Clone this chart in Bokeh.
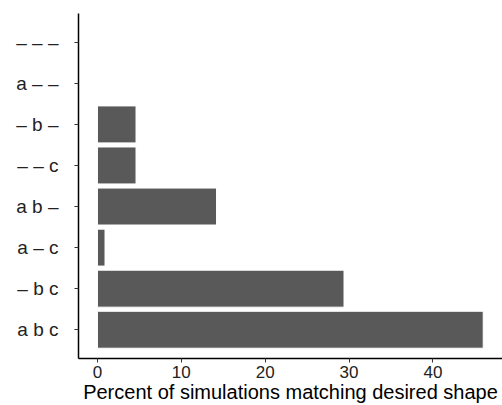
from bokeh.plotting import figure
from bokeh.models import FactorRange, Range1d, FixedTicker
from bokeh.embed import file_html
from bokeh.resources import INLINE

categories = ["a b c", "– b c", "a – c", "a b –", "– – c", "– b –", "a – –", "– – –"]
percent = [46.0, 29.4, 0.9, 14.2, 4.6, 4.6, 0.0, 0.0]
x_ticks = [0, 10, 20, 30, 40]

font = "Liberation Sans"

p = figure(width=502, height=405, output_backend="svg", toolbar_location=None,
           y_range=FactorRange(factors=categories, range_padding=0.2,
                               range_padding_units="absolute"),
           x_range=Range1d(-2.26, 48.3))
p.hbar(y=categories, right=percent, left=0, height=0.9,
       fill_color="#595959", line_color="white", line_width=1)

p.min_border_left = 78
p.min_border_right = 0
p.min_border_top = 13
p.min_border_bottom = 47
p.outline_line_color = None
p.background_fill_color = "white"
p.border_fill_color = "white"
p.grid.visible = False

p.xaxis.ticker = FixedTicker(ticks=x_ticks)
p.xaxis.axis_label = "Percent of simulations matching desired shape"
for ax in (p.xaxis, p.yaxis):
    ax.axis_line_color = "black"
    ax.axis_line_width = 1.5
    ax.major_tick_line_color = "#333333"
    ax.major_tick_in = 0
    ax.major_tick_out = 4
    ax.minor_tick_line_color = None
    ax.major_label_text_font = font
    ax.major_label_text_color = "#222222"
    ax.axis_label_text_font = font
    ax.axis_label_text_font_size = "20px"
    ax.axis_label_text_font_style = "normal"
    ax.axis_label_text_color = "black"
p.yaxis.major_label_text_font_size = "19px"
p.xaxis.major_label_text_font_size = "17px"
p.yaxis.major_label_standoff = 16
p.xaxis.major_label_standoff = 3
p.xaxis.axis_label_standoff = 0

open("out.html", "w").write(file_html(p, INLINE))
